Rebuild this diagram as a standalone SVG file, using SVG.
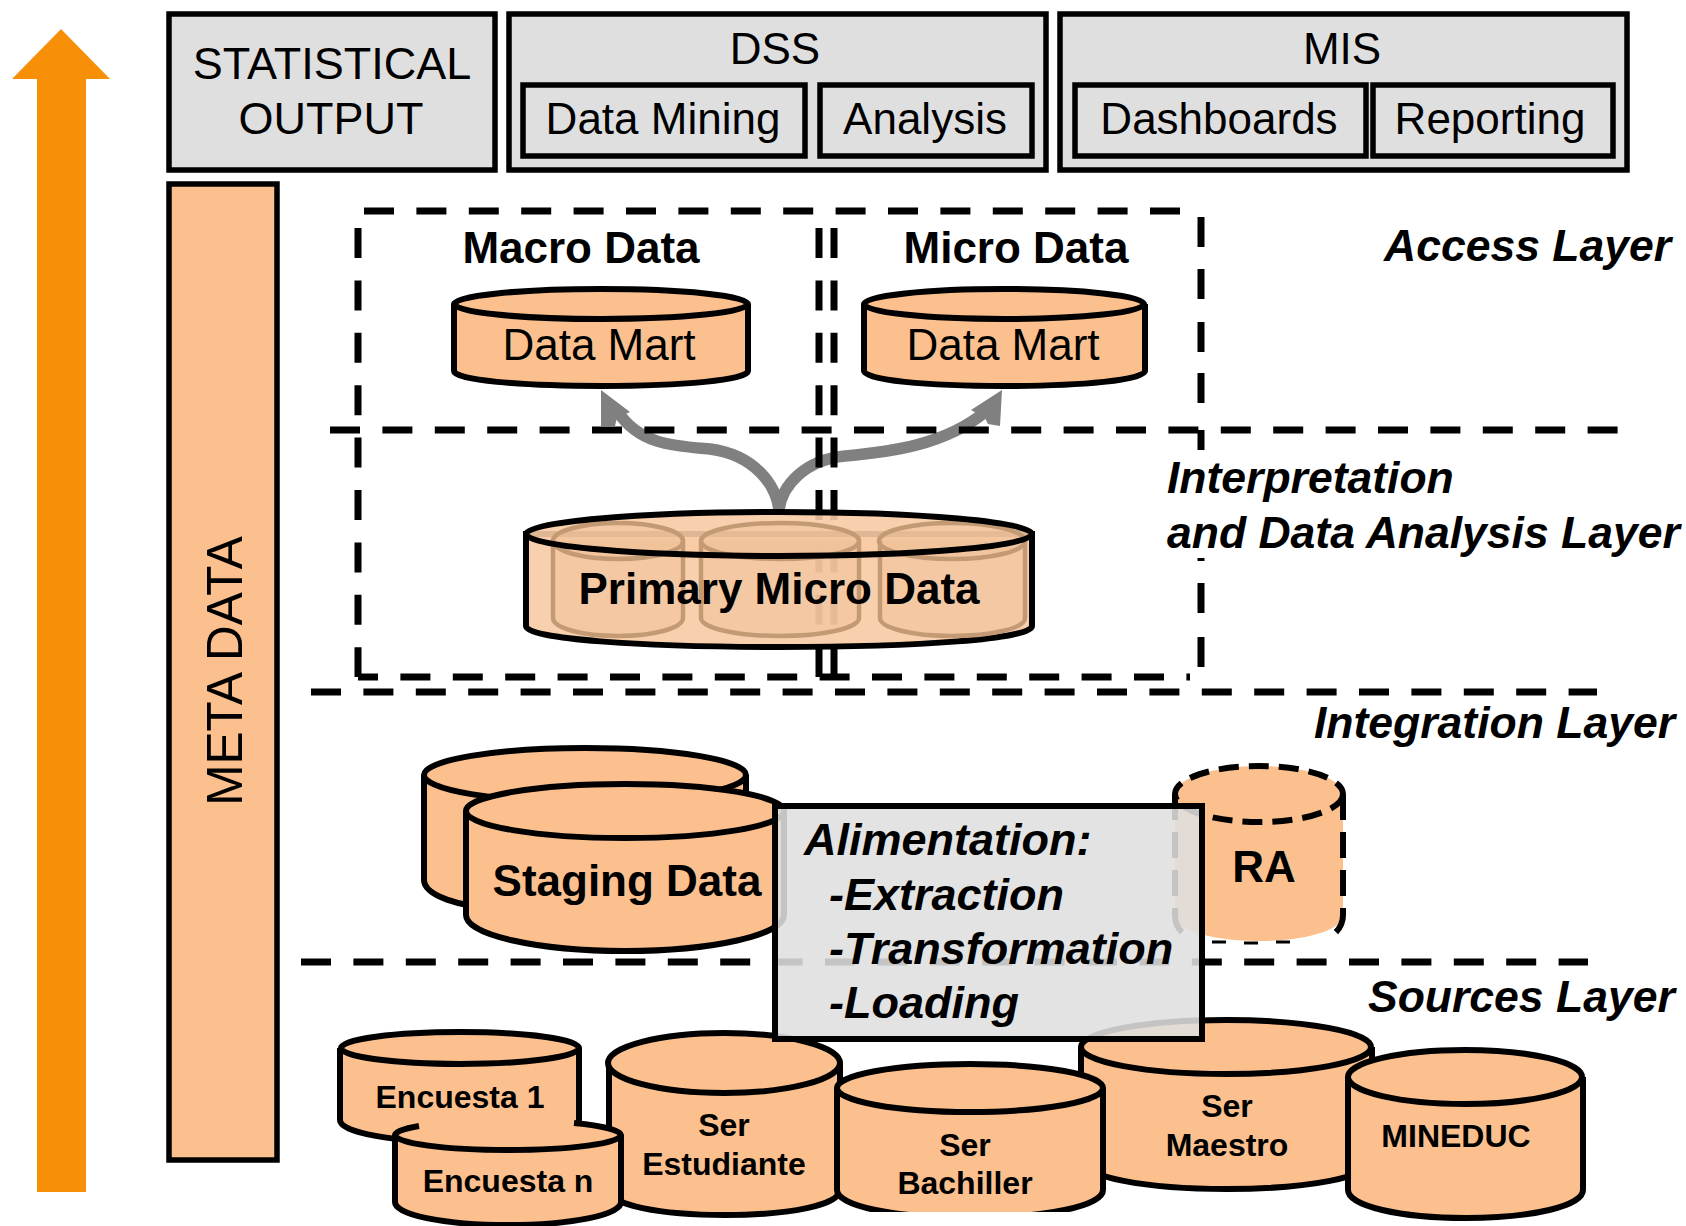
<svg xmlns="http://www.w3.org/2000/svg" width="1686" height="1226" viewBox="0 0 1686 1226">
<style>
text{font-family:"Liberation Sans",Arial,sans-serif;font-size:44px;fill:#000}
.m{text-anchor:middle}
.b{font-weight:bold}
.bi{font-weight:bold;font-style:italic;font-size:45px}
.l{font-size:44.5px}
.s{font-size:32px;font-weight:bold;text-anchor:middle}
.box{fill:#dfdfdf;stroke:#000;stroke-width:5.5}
.cyl{fill:#fbc08e;stroke:#000;stroke-width:6}
.dash{fill:none;stroke:#000;stroke-width:7;stroke-dasharray:30 22.4}
.solid{fill:none;stroke:#000;stroke-width:7}
.inner{fill:#eebf97;fill-opacity:.45;stroke:#c49a75;stroke-width:4.5}
.flow{fill:none;stroke:#808080;stroke-width:11.5}
.head{fill:#808080}
</style>
<rect width="1686" height="1226" fill="#fff"/>

<g id="up-arrow"><path d="M61 29L110 79H86V1192H37V79H12Z" fill="#f79007"/></g>

<g id="statistical-output">
<rect class="box" x="169" y="14" width="326" height="156"/>
<text class="m" x="332" y="79" style="font-size:45px">STATISTICAL</text>
<text class="m" x="331" y="134" style="font-size:45px">OUTPUT</text>
</g>
<g id="dss">
<rect class="box" x="509" y="14" width="537" height="156"/>
<text class="m" x="775" y="64">DSS</text>
</g>
<g id="data-mining">
<rect class="box" x="523" y="85" width="282" height="71"/>
<text class="m" x="663" y="134">Data Mining</text>
</g>
<g id="analysis">
<rect class="box" x="820" y="85" width="212" height="71"/>
<text class="m" x="925" y="134">Analysis</text>
</g>
<g id="mis">
<rect class="box" x="1060" y="14" width="567" height="156"/>
<text class="m" x="1342" y="64">MIS</text>
</g>
<g id="dashboards">
<rect class="box" x="1075" y="85" width="291" height="71"/>
<text class="m" x="1219" y="134">Dashboards</text>
</g>
<g id="reporting">
<rect class="box" x="1373" y="85" width="240" height="71"/>
<text class="m" x="1490" y="134">Reporting</text>
</g>

<g id="meta-data">
<rect x="169" y="184" width="108" height="976" fill="#fbc08e" stroke="#000" stroke-width="5.5"/>
<text class="m" transform="translate(242 671) rotate(-90)" style="font-size:49.5px">META DATA</text>
</g>

<g id="connectors">
<path class="flow" d="M779 510C776 485 755 455 710 449C675 446 640 445 618 412"/>
<path class="flow" d="M779 510C782 485 805 460 845 456C890 452 945 445 985 412"/>
<path class="head" d="M601 390L630 412L617 418L615 426H601Z"/>
<path class="head" d="M1002 390L971 410L985 418L988 424L1000 426Z"/>
</g>

<g id="layer-lines">
<path class="dash" d="M364 211H1190"/>
<path class="dash" d="M358 228V677"/>
<path class="dash" d="M819 228V677"/>
<path class="dash" d="M834 228V677"/>
<path class="solid" d="M1201 217V247M1201 269V299M1201 322V352M1201 373V403M1201 430V450M1201 558V561M1201 583V613M1201 637V667"/>
<path class="dash" d="M330 430H1618"/>
<path class="dash" d="M358 677H1190" stroke-dashoffset="10"/>
<path class="dash" d="M311 692H1597"/>
<path class="dash" d="M301 962H1588"/>
</g>

<g id="macro-data">
<text class="m b" x="581" y="263">Macro Data</text>
</g>
<g id="micro-data">
<text class="m b" x="1016" y="263">Micro Data</text>
</g>
<g id="data-mart-macro">
<path class="cyl" d="M454 304V371C454 380 520 386 601 386S748 380 748 371V304"/>
<ellipse class="cyl" cx="601" cy="304" rx="147" ry="15"/>
<text class="m" x="599" y="360">Data Mart</text>
</g>
<g id="data-mart-micro">
<path class="cyl" d="M864 304V371C864 380 926 386 1004 386S1145 380 1145 371V304"/>
<ellipse class="cyl" cx="1004" cy="304" rx="140" ry="15"/>
<text class="m" x="1003" y="360">Data Mart</text>
</g>

<g id="primary-micro-data">
<path d="M526 534V626C526 639 640 647 779 647S1032 639 1032 626V534Z" fill="#f8cba4" fill-opacity=".9" stroke="#000" stroke-width="6"/>
<ellipse cx="779" cy="534" rx="253" ry="22" fill="#f8cba4" fill-opacity=".9"/>
<path class="inner" d="M553 541V618C553 628 582 636 618 636S683 628 683 618V541"/><ellipse class="inner" cx="618" cy="541" rx="65" ry="18"/>
<path class="inner" d="M701 541V618C701 628 736 636 780 636S859 628 859 618V541"/><ellipse class="inner" cx="780" cy="541" rx="79" ry="18"/>
<path class="inner" d="M880 541V618C880 628 912 636 952 636S1025 628 1025 618V541"/><ellipse class="inner" cx="952" cy="541" rx="73" ry="18"/>
<ellipse cx="779" cy="534" rx="253" ry="22" fill="none" stroke="#000" stroke-width="6"/>
<text class="m b" x="779" y="604">Primary Micro Data</text>
</g>

<g id="staging-data-back">
<path class="cyl" d="M424 775V880C424 895 460 908 500 908H746V775"/>
<ellipse class="cyl" cx="585" cy="775" rx="161" ry="27"/>
</g>
<g id="staging-data">
<path class="cyl" d="M466 811V915C466 935 538 951 625 951S784 935 784 915V811"/>
<ellipse class="cyl" cx="625" cy="811" rx="159" ry="27"/>
<text class="m b" x="627" y="896">Staging Data</text>
</g>
<g id="ra">
<path d="M1175 794V915C1175 930 1212 941 1259 941S1343 930 1343 915V794Z" fill="#fbc08e"/>
<ellipse cx="1259" cy="794" rx="84" ry="28" fill="#fbc08e" stroke="#000" stroke-width="6" stroke-dasharray="20 10"/>
<path d="M1343 794V915C1343 926 1337 932 1330 937M1175 794V915C1175 925 1180 933 1190 937" fill="none" stroke="#000" stroke-width="6" stroke-dasharray="26 12"/>
<path d="M1212 942H1226M1244 943H1258M1276 942H1290" fill="none" stroke="#000" stroke-width="3"/>
<text class="m b" x="1264" y="882">RA</text>
</g>

<g id="ser-maestro">
<path class="cyl" d="M1081 1047V1160C1081 1177 1146 1189 1227 1189S1372 1177 1372 1160V1047"/>
<ellipse class="cyl" cx="1226" cy="1047" rx="145" ry="27"/>
<text class="s" x="1227" y="1117">Ser</text>
<text class="s" x="1227" y="1156">Maestro</text>
</g>
<g id="ser-estudiante">
<path class="cyl" d="M609 1063V1190C609 1205 660 1215 725 1215S840 1205 840 1190V1063"/>
<ellipse class="cyl" cx="724" cy="1063" rx="116" ry="30"/>
<text class="s" x="724" y="1136">Ser</text>
<text class="s" x="724" y="1175">Estudiante</text>
</g>
<g id="encuesta-1">
<path class="cyl" d="M340 1048V1120C340 1133 395 1142 460 1142S579 1133 579 1120V1048"/>
<ellipse class="cyl" cx="460" cy="1048" rx="119" ry="16"/>
<text class="s" x="460" y="1108">Encuesta 1</text>
</g>
<g id="encuesta-n">
<path class="cyl" d="M395 1135V1202C395 1215 445 1225 508 1225S621 1215 621 1202V1135"/>
<ellipse cx="508" cy="1135" rx="113" ry="15" fill="#fbc08e"/>
<path d="M419 1126A113 15 0 0 0 395 1135A113 15 0 0 0 621 1135A113 15 0 0 0 574 1123" fill="none" stroke="#000" stroke-width="6"/>
<text class="s" x="508" y="1192">Encuesta n</text>
</g>
<g id="ser-bachiller">
<path class="cyl" d="M837 1088V1190C837 1206 895 1218 970 1218S1103 1206 1103 1190V1088"/>
<ellipse class="cyl" cx="970" cy="1088" rx="133" ry="24"/>
<rect x="854" y="1212" width="221" height="12" fill="#fff"/>
<text class="s" x="965" y="1156">Ser</text>
<text class="s" x="965" y="1194">Bachiller</text>
</g>
<g id="mineduc">
<path class="cyl" d="M1348 1077V1190C1348 1206 1400 1218 1466 1218S1583 1206 1583 1190V1077"/>
<ellipse class="cyl" cx="1465" cy="1077" rx="117" ry="27"/>
<text class="s" x="1456" y="1147">MINEDUC</text>
</g>

<g id="alimentation">
<rect x="775" y="806" width="427" height="233" fill="#dfdfdf" fill-opacity=".88" stroke="#000" stroke-width="6"/>
<text class="bi" x="804" y="855">Alimentation:</text>
<text class="bi" x="829" y="910">-Extraction</text>
<text class="bi" x="829" y="964">-Transformation</text>
<text class="bi" x="829" y="1018">-Loading</text>
</g>

<g id="layer-labels">
<text class="bi l" x="1384" y="261">Access Layer</text>
<text class="bi l" x="1167" y="493">Interpretation</text>
<text class="bi l" x="1167" y="548">and Data Analysis Layer</text>
<text class="bi l" x="1314" y="738">Integration Layer</text>
<text class="bi l" x="1368" y="1012">Sources Layer</text>
</g>
</svg>
